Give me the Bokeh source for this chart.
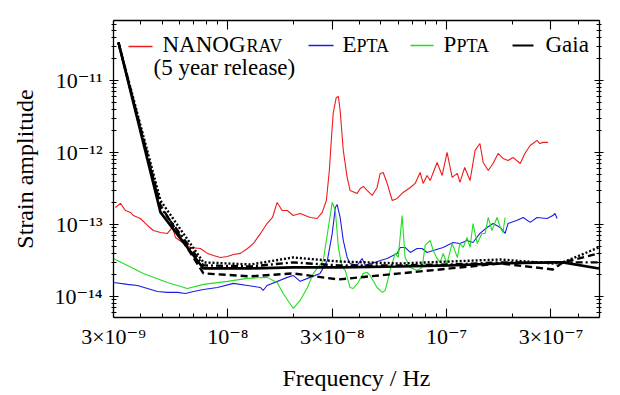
import numpy as np
from bokeh.plotting import figure
from bokeh.models import (LogAxis, FixedTicker, Label, BoxAnnotation, Range1d,
                          CustomJSTickFormatter)
from bokeh.embed import file_html
from bokeh.resources import INLINE

# ---------------- data (frequency in nHz, strain in units of 1e-14) ----------------
nanograv_freq_nhz = [3.06, 3.23, 3.40, 3.59, 3.70, 3.98, 4.29, 4.57, 4.92, 5.29, 5.58, 5.76, 6.20, 6.74, 7.49,
                     8.06, 8.59, 9.24, 9.95, 10.6, 11.4, 12.3, 13.1, 14.1, 15.1, 16.0, 16.8, 17.7, 18.7, 19.9,
                     21.4, 23.8, 25.6, 27.0, 28.2, 29.1, 29.7, 30.3, 31.3, 32.0, 32.6, 33.7, 35.1, 36.2, 39.0,
                     40.3, 41.6, 43.3, 45.7, 48.1, 49.7, 51.3, 53.5, 56.4, 59.4, 63.3, 68.2, 71.8, 75.7, 78.1,
                     81.4, 84.1, 90.5, 95.4, 100.5, 106, 112, 115, 121, 128, 135, 142, 147, 155, 163,
                     172, 181, 191, 201, 217, 228, 241, 248, 259, 267, 276, 291]
nanograv_strain_e14 = [17.2, 19.6, 15.6, 14.7, 13.3, 12.1, 9.68, 8.25, 7.74, 7.50, 9.08, 6.60, 5.62, 4.79, 4.64,
                       3.96, 3.71, 3.48, 3.59, 3.83, 3.96, 4.64, 5.45, 7.50, 10.3, 12.5, 20.2, 15.6, 15.6, 13.3,
                       14.2, 12.5, 12.1, 14.7, 21.5, 56.2, 147, 348, 580, 600, 383, 107, 45.0, 29.7, 27.0,
                       31.6, 33.7, 29.7, 25.3, 32.6, 51.1, 52.7, 37.1, 21.5, 23.0, 27.8, 32.6, 37.1, 52.7, 37.1,
                       47.9, 40.8, 72.6, 47.9, 100, 45.0, 51.1, 38.3, 61.9, 40.8, 107, 133, 72.6, 56.2, 70.3,
                       96.8, 82.5, 77.4, 85.3, 70.3, 96.8, 125, 133, 147, 133, 138, 138]

epta_freq_nhz = [3.00, 3.48, 3.86, 4.29, 4.76, 5.29, 5.88, 6.40, 6.96, 7.73, 8.96, 10.6, 12.3, 14.1, 14.5,
                 15.1, 18.7, 19.9, 21.4, 23.8, 26.4, 28.5, 30.0, 31.0, 31.6, 32.6, 33.7, 35.1, 36.2, 39.0,
                 41.1, 42.5, 44.7, 47.2, 49.7, 53.5, 59.4, 61.3, 64.6, 68.2, 73.3, 77.3, 81.4, 86.8, 96.4,
                 107, 115, 124, 132, 142, 153, 163, 176, 185, 191, 210, 224, 241, 259, 288, 306, 313, 320]
epta_strain_e14 = [1.56, 1.47, 1.42, 1.29, 1.17, 1.14, 1.14, 1.10, 1.17, 1.25, 1.33, 1.52, 1.42, 1.33, 1.21,
                   1.42, 1.84, 1.96, 1.62, 1.84, 2.09, 3.16, 7.50, 17.2, 18.9, 12.5, 6.0, 3.48, 2.87, 2.70,
                   3.37, 2.70, 2.87, 2.97, 3.16, 3.37, 3.96, 4.79, 4.79, 4.08, 4.64, 4.64, 4.08, 4.35, 4.79,
                   5.62, 5.45, 6.0, 5.62, 7.50, 9.08, 10.3, 9.08, 7.50, 10.3, 11.4, 12.5, 10.7, 12.5, 12.1,
                   13.3, 14.2, 12.1]

ppta_freq_nhz = [3.00, 4.11, 5.29, 6.53, 7.73, 9.95, 12.3, 15.1, 16.8, 17.9, 19.9, 21.4, 23.1, 24.6, 27.3,
                 28.8, 30.0, 31.0, 32.0, 33.3, 34.4, 36.2, 37.4, 39.4, 41.6, 43.3, 44.7, 48.1, 50.8, 52.4,
                 55.2, 58.2, 60.1, 62.6, 64.6, 68.2, 73.3, 77.3, 79.8, 84.1, 86.8, 90.5, 93.4, 96.4, 100.5,
                 106, 112, 115, 119, 124, 128, 132, 138, 145, 150, 155, 161, 170, 176, 181, 185]
ppta_strain_e14 = [3.37, 2.09, 1.56, 1.29, 1.47, 1.62, 1.78, 1.84, 1.56, 1.10, 0.681, 0.880, 1.33, 2.09, 3.16,
                   9.08, 20.2, 15.6, 4.79, 2.53, 2.30, 1.33, 1.29, 1.56, 2.09, 2.15, 1.96, 1.33, 1.14, 1.21,
                   2.30, 3.96, 3.48, 13.3, 3.48, 2.53, 2.30, 2.53, 5.11, 6.0, 4.35, 3.37, 2.97, 3.96, 2.87,
                   5.45, 3.48, 5.45, 4.79, 6.60, 4.79, 10.3, 5.45, 7.50, 7.50, 12.5, 8.25, 12.5, 9.08, 7.74,
                   12.5]

gaia_freq_nhz = [3.16, 4.92, 7.73, 12.7, 19.9, 32.0, 61.3, 104, 176, 306, 340, 497]
gaia_solid_e14 = [3373, 14.7, 2.45, 2.45, 2.53, 2.53, 2.61, 2.70, 2.87, 2.97, 2.97, 2.45]
gaia_dashed_e14 = [3373, 18.4, 2.09, 1.90, 2.09, 1.72, 2.09, 2.45, 2.87, 2.37, 2.97, 3.96]
gaia_dotted_e14 = [3373, 21.5, 2.97, 2.78, 3.48, 3.06, 2.87, 3.06, 3.26, 2.87, 2.97, 4.79]
gaia_dashdot_e14 = [3373, 17.2, 2.70, 2.61, 2.97, 2.70, 2.70, 2.78, 2.97, 2.97, 2.97, 2.97]

x_tick_values = [3e-9, 1e-8, 3e-8, 1e-7, 3e-7]
x_tick_labels = ["3×10⁻⁹", "10⁻⁸", "3×10⁻⁸", "10⁻⁷", "3×10⁻⁷"]
y_tick_values = [1e-14, 1e-13, 1e-12, 1e-11]
y_tick_labels = ["10⁻¹⁴", "10⁻¹³", "10⁻¹²", "10⁻¹¹"]

NHZ = 1e-9
E14 = 1e-14
FONT = "'Liberation Serif', 'DejaVu Serif', serif"

x_minor = [m * 10.0 ** e for e in (-9, -8, -7) for m in range(2, 10)
           if 3e-9 < m * 10.0 ** e <= 5e-7 and m != 3]
y_minor = [m * 10.0 ** e for e in (-15, -14, -13, -12, -11) for m in range(2, 10)
           if 5.1e-15 <= m * 10.0 ** e <= 6.8e-11]

p = figure(x_axis_type="log", y_axis_type="log",
           x_range=Range1d(3e-9, 5e-7), y_range=Range1d(5.1e-15, 6.8e-11),
           frame_width=486, frame_height=297,
           min_border_left=113, min_border_top=20, min_border_right=14, min_border_bottom=76,
           output_backend="svg", toolbar_location=None,
           background_fill_color="white", border_fill_color="white", outline_line_color=None)
p.grid.visible = False

def fmt(vals, labs):
    return CustomJSTickFormatter(args=dict(vals=vals, labs=labs), code="""
        for (let i = 0; i < vals.length; i++) {
            if (Math.abs(Math.log10(tick) - Math.log10(vals[i])) < 1e-6) return labs[i];
        }
        return "";
    """)

blank = CustomJSTickFormatter(code='return "";')

def style_x(ax, show):
    ax.ticker = FixedTicker(ticks=x_tick_values, minor_ticks=x_minor)
    ax.formatter = fmt(x_tick_values, x_tick_labels) if show else blank
    ax.major_tick_in = 9
    ax.major_tick_out = 0
    ax.minor_tick_in = 4
    ax.minor_tick_out = 0
    ax.axis_line_width = 1.3
    ax.major_tick_line_width = 1.1
    ax.minor_tick_line_width = 1.0
    ax.major_label_text_font = FONT
    ax.major_label_text_font_size = "22px" if show else "1px"
    ax.major_label_standoff = 6 if show else 0
    ax.major_label_text_color = "black"

def style_y(ax, show):
    ax.ticker = FixedTicker(ticks=y_tick_values, minor_ticks=y_minor)
    ax.formatter = fmt(y_tick_values, y_tick_labels) if show else blank
    ax.major_tick_in = 5
    ax.major_tick_out = 4
    ax.minor_tick_in = 3
    ax.minor_tick_out = 2
    ax.axis_line_width = 1.3
    ax.major_tick_line_width = 1.1
    ax.minor_tick_line_width = 1.0
    ax.major_label_text_font = FONT
    ax.major_label_text_font_size = "22px" if show else "1px"
    ax.major_label_standoff = 7 if show else 0
    ax.major_label_text_color = "black"

xa = p.xaxis[0]
ya = p.yaxis[0]
style_x(xa, True)
style_y(ya, True)
xa.axis_label = "Frequency / Hz"
ya.axis_label = "Strain amplitude"
for ax in (xa, ya):
    ax.axis_label_text_font = FONT
    ax.axis_label_text_font_size = "24px"
    ax.axis_label_text_font_style = "normal"
    ax.axis_label_text_color = "black"
xa.axis_label_standoff = 13
ya.axis_label_standoff = 14

top = LogAxis()
style_x(top, False)
p.add_layout(top, "above")
right = LogAxis()
style_y(right, False)
p.add_layout(right, "right")

# ---------------- series ----------------
def arr(v, s):
    return np.array(v) * s

RED, BLUE, GREEN = "#ee1c1c", "#1c1ce6", "#22dd22"

p.line(arr(nanograv_freq_nhz, NHZ), arr(nanograv_strain_e14, E14), line_color=RED, line_width=1.1)
p.line(arr(epta_freq_nhz, NHZ), arr(epta_strain_e14, E14), line_color=BLUE, line_width=1.1)
p.line(arr(ppta_freq_nhz, NHZ), arr(ppta_strain_e14, E14), line_color=GREEN, line_width=1.1)

gf = arr(gaia_freq_nhz, NHZ)
p.line(gf, arr(gaia_dashdot_e14, E14), line_color="black", line_width=2.4, line_dash="7 3 2 3")
p.line(gf, arr(gaia_dotted_e14, E14), line_color="black", line_width=2.4, line_dash="2 2")
p.line(gf, arr(gaia_dashed_e14, E14), line_color="black", line_width=2.4, line_dash="7 4")
p.line(gf, arr(gaia_solid_e14, E14), line_color="black", line_width=2.6)

# ---------------- legend (screen units, relative to the plot frame) ----------------
FL, FB = 113, 317   # frame left / bottom in page pixels, used to place legend pieces
MID = 0.3375        # em-box centre above the baseline, as a fraction of the font size

def seg(x0, x1, y, color, thick):
    p.add_layout(BoxAnnotation(left=x0 - FL, right=x1 - FL, bottom=FB - y - thick / 2, top=FB - y + thick / 2,
                               left_units="screen", right_units="screen",
                               top_units="screen", bottom_units="screen",
                               fill_color=color, fill_alpha=1.0, line_alpha=0))

def txt(x, baseline, s, size):
    p.add_layout(Label(x=x - FL, y=FB - (baseline - MID * size), x_units="screen", y_units="screen", text=s,
                       text_font=FONT, text_font_size=f"{size}px", text_color="black",
                       text_baseline="middle", text_align="left"))

BIG, SMALL = 23, 18
seg(128, 152, 46, RED, 1.3)
txt(162, 52, "NANOG", BIG)
txt(246, 52, "RAV", SMALL)
txt(153, 75, "(5 year release)", BIG)
seg(308, 333, 45, BLUE, 1.3)
txt(342, 52, "E", BIG)
txt(356, 52, "PTA", SMALL)
seg(410, 433, 45, GREEN, 1.3)
txt(443, 52, "P", BIG)
txt(456, 52, "PTA", SMALL)
seg(512, 533, 45, "black", 2.2)
txt(545, 52, "Gaia", BIG)

open("out.html", "w").write(file_html(p, INLINE))
